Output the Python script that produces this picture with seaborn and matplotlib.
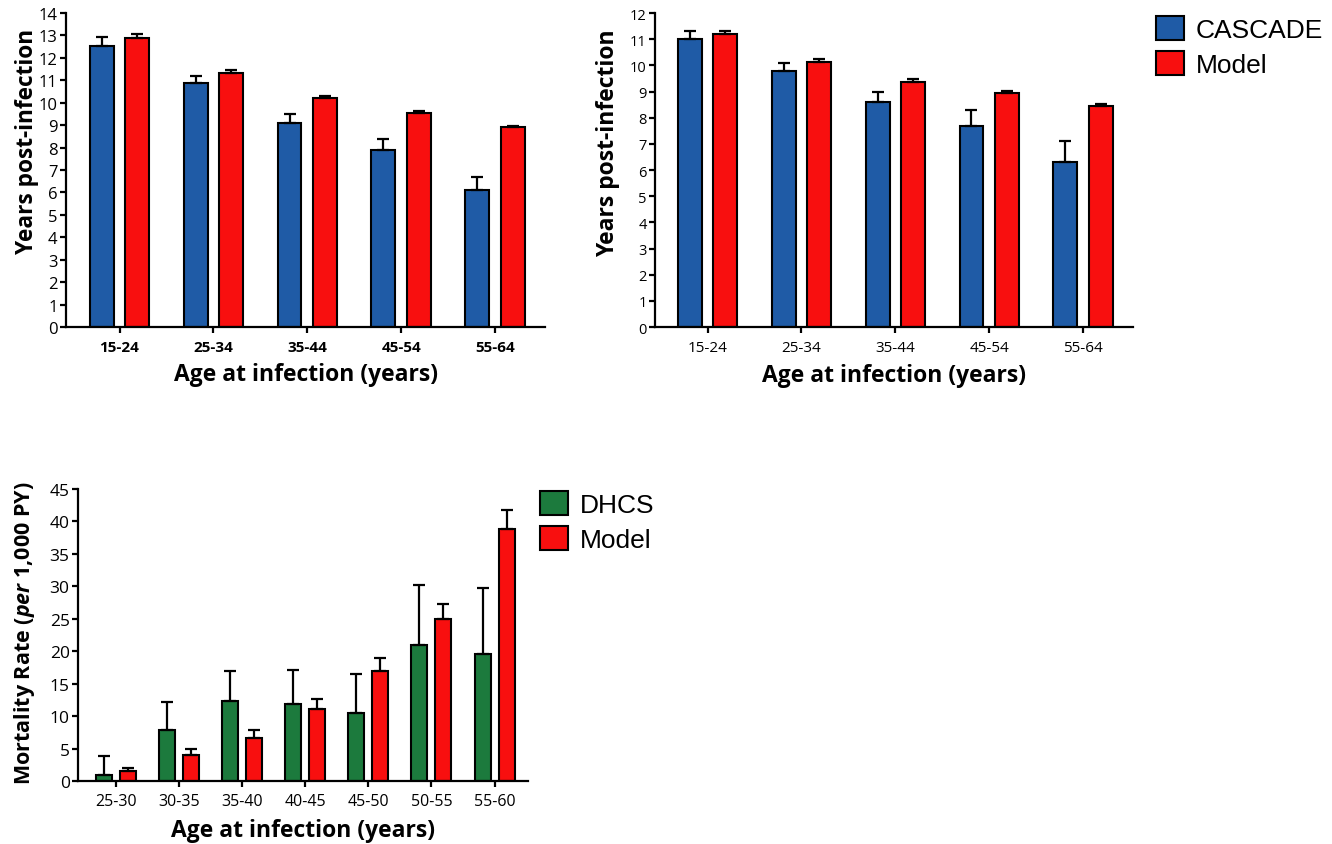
import numpy as np
import pandas as pd
import matplotlib
matplotlib.use("Agg")
import matplotlib.pyplot as plt
import seaborn as sns

# ==========================================
# DATA
# ==========================================
AGE_TOP = ["15-24", "25-34", "35-44", "45-54", "55-64"]

# panel A (top left)
A_CASCADE = [12.55, 10.9, 9.1, 7.9, 6.1]
A_CASCADE_UP = [12.95, 11.2, 9.5, 8.4, 6.7]
A_MODEL = [12.88, 11.32, 10.22, 9.52, 8.9]
A_MODEL_UP = [13.05, 11.45, 10.32, 9.62, 8.98]

# panel B (top right)
B_CASCADE = [11.0, 9.8, 8.6, 7.7, 6.3]
B_CASCADE_UP = [11.3, 10.1, 9.0, 8.3, 7.1]
B_MODEL = [11.18, 10.13, 9.38, 8.93, 8.45]
B_MODEL_UP = [11.3, 10.25, 9.48, 9.03, 8.53]

# panel C (bottom)
AGE_BOTTOM = ["25-30", "30-35", "35-40", "40-45", "45-50", "50-55", "55-60"]
C_DHCS = [1.0, 7.8, 12.4, 11.9, 10.5, 20.9, 19.6]
C_DHCS_UP = [3.9, 12.2, 16.9, 17.1, 16.5, 30.2, 29.8]
C_MODEL = [1.5, 4.0, 6.6, 11.1, 17.0, 25.0, 38.9]
C_MODEL_UP = [2.0, 4.9, 7.9, 12.7, 18.9, 27.3, 41.8]

BLUE = "#1f5ba6"
RED = "#f80f0f"
GREEN = "#1c7a3d"

sns.set_style("ticks")
plt.rcParams["font.family"] = ["Open Sans", "DejaVu Sans"]
plt.rcParams["mathtext.fontset"] = "custom"
plt.rcParams["mathtext.it"] = "Open Sans:italic:bold"
plt.rcParams["mathtext.rm"] = "Open Sans:bold"
plt.rcParams["text.color"] = "black"
plt.rcParams["axes.labelcolor"] = "black"
plt.rcParams["axes.edgecolor"] = "black"
plt.rcParams["axes.linewidth"] = 1.6
plt.rcParams["xtick.major.width"] = 1.6
plt.rcParams["ytick.major.width"] = 1.6
plt.rcParams["xtick.major.size"] = 4
plt.rcParams["ytick.major.size"] = 4
plt.rcParams["xtick.color"] = "black"
plt.rcParams["ytick.color"] = "black"


def long_frame(cats, names, series):
    rows = []
    for name, vals in zip(names, series):
        for c, v in zip(cats, vals):
            rows.append({"age": c, "group": name, "value": v})
    return pd.DataFrame(rows)


def bar_panel(ax, cats, names, means, uppers, colors, yticks, xlim,
              bold_x, ytick_size, xtick_size):
    df = long_frame(cats, names, means)
    sns.barplot(
        data=df, x="age", y="value", hue="group",
        order=cats, hue_order=names, palette=colors,
        width=0.76, gap=0.33, errorbar=None,
        edgecolor="black", linewidth=1.5, saturation=1.0,
        legend=False, ax=ax,
    )
    # upper-only error bars, positioned from the drawn bars
    for container, up in zip(ax.containers, uppers):
        xs = np.array([p.get_x() + p.get_width() / 2 for p in container.patches])
        ys = np.array([p.get_height() for p in container.patches])
        ax.errorbar(
            xs, ys, yerr=[np.zeros_like(ys), np.array(up) - ys],
            fmt="none", ecolor="black", elinewidth=1.6,
            capsize=4.5, capthick=1.6, zorder=1,
        )
    ax.set_ylim(yticks[0], yticks[-1])
    ax.set_yticks(yticks)
    ax.set_xlim(*xlim)
    sns.despine(ax=ax)
    ax.set_xlabel("Age at infection (years)", fontsize=16.5, fontweight="bold", labelpad=6)
    ax.tick_params(axis="y", labelsize=ytick_size, pad=2)
    ax.tick_params(axis="x", labelsize=xtick_size, pad=5)
    if bold_x:
        for t in ax.get_xticklabels():
            t.set_fontweight("bold")


fig = plt.figure(figsize=(13.32, 8.45), dpi=100)

# ── panel A ───────────────────────────────────────────────────────────────
ax_a = fig.add_axes([66 / 1332, 1 - 328 / 845, 479 / 1332, 314 / 845])
bar_panel(ax_a, AGE_TOP, ["CASCADE", "Model"], [A_CASCADE, A_MODEL],
          [A_CASCADE_UP, A_MODEL_UP], [BLUE, RED], list(range(0, 15)),
          (-0.57, 4.53), True, 12, 11)
ax_a.set_ylabel("Years post-infection", fontsize=16.3, fontweight="bold")
ax_a.yaxis.set_label_coords(-0.057, 0.595)

# ── panel B ───────────────────────────────────────────────────────────────
ax_b = fig.add_axes([655 / 1332, 1 - 328 / 845, 478 / 1332, 314 / 845])
bar_panel(ax_b, AGE_TOP, ["CASCADE", "Model"], [B_CASCADE, B_MODEL],
          [B_CASCADE_UP, B_MODEL_UP], [BLUE, RED], list(range(0, 13)),
          (-0.56, 4.53), False, 10.5, 11)
ax_b.set_ylabel("Years post-infection", fontsize=16.5, fontweight="bold")
ax_b.yaxis.set_label_coords(-0.073, 0.59)

# ── panel C ───────────────────────────────────────────────────────────────
ax_c = fig.add_axes([78 / 1332, 1 - 782 / 845, 450 / 1332, 292 / 845])
bar_panel(ax_c, AGE_BOTTOM, ["DHCS", "Model"], [C_DHCS, C_MODEL],
          [C_DHCS_UP, C_MODEL_UP], [GREEN, RED], list(range(0, 46, 5)),
          (-0.6, 6.53), False, 12.5, 11.5)
ax_c.set_ylabel(r"Mortality Rate ($\it{per}$ 1,000 PY)", fontsize=15.5,
                fontweight="bold")
ax_c.yaxis.set_label_coords(-0.092, 0.51)

# ── legends ───────────────────────────────────────────────────────────────
legend_kw = dict(
    frameon=False, loc="upper left", prop={"family": "Liberation Sans", "size": 19},
    handlelength=1.05, handleheight=1.0, handletextpad=0.45, labelspacing=0.35,
    borderpad=0.0, borderaxespad=0.0,
)
fig.legend(handles=list(ax_b.containers[0].patches[:1]) + list(ax_b.containers[1].patches[:1]),
           labels=["CASCADE", "Model"], bbox_to_anchor=(1156 / 1332, 1 - 17 / 845),
           **legend_kw)
fig.legend(handles=list(ax_c.containers[0].patches[:1]) + list(ax_c.containers[1].patches[:1]),
           labels=["DHCS", "Model"], bbox_to_anchor=(540 / 1332, 1 - 492 / 845),
           **legend_kw)

fig.savefig("out.png", dpi=100)
plt.close(fig)
